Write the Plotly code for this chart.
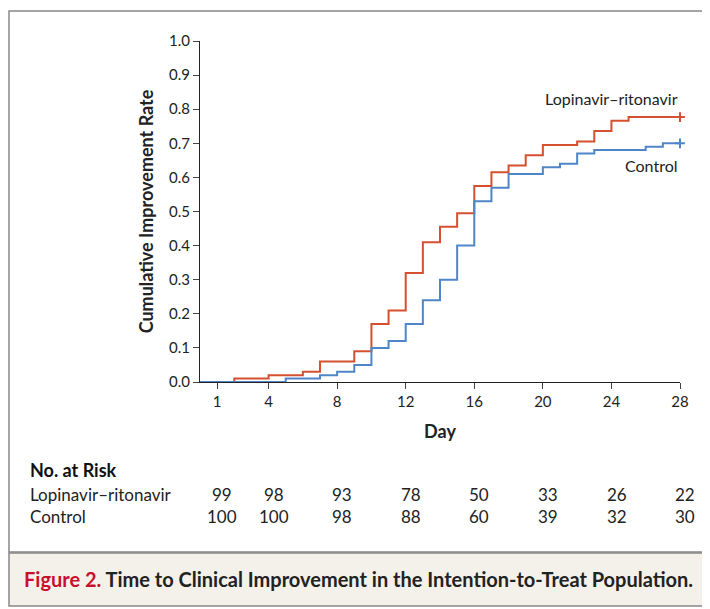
import plotly.graph_objects as go

# step curves (day, cumulative rate)
lpv_days = [0, 2, 4, 6, 7, 9, 10, 11, 12, 13, 14, 15, 16, 17, 18, 19, 20, 22, 23, 24, 25, 28]
lpv_rate = [0, 0.01, 0.02, 0.03, 0.06, 0.09, 0.17, 0.21, 0.32, 0.41, 0.455, 0.495, 0.575, 0.615,
            0.635, 0.665, 0.695, 0.705, 0.736, 0.766, 0.777, 0.777]
ctl_days = [0, 5, 7, 8, 9, 10, 11, 12, 13, 14, 15, 16, 17, 18, 20, 21, 22, 23, 26, 27, 28]
ctl_rate = [0, 0.01, 0.02, 0.03, 0.05, 0.10, 0.12, 0.17, 0.24, 0.30, 0.40, 0.53, 0.57, 0.61,
            0.63, 0.64, 0.67, 0.68, 0.69, 0.70, 0.70]

risk_days = [1, 4, 8, 12, 16, 20, 24, 28]
risk_lpv = [99, 98, 93, 78, 50, 33, 26, 22]
risk_ctl = [100, 100, 98, 88, 60, 39, 32, 30]

RED = "#d4502f"
BLUE = "#4f86c9"
FONT = "Lato"
OFF = 8  # page body margin
W, H = 710 - OFF, 609 - OFF
L, R, T, B = 200, 680, 41, 382


def px(x):
    return (x - L) / (R - L)


def py(y):
    return (B - y) / (B - T)


fig = go.Figure()
fig.add_trace(go.Scatter(x=lpv_days, y=lpv_rate, mode="lines", line=dict(color=RED, width=2, shape="hv")))
fig.add_trace(go.Scatter(x=ctl_days, y=ctl_rate, mode="lines", line=dict(color=BLUE, width=2, shape="hv")))
fig.add_trace(go.Scatter(x=[lpv_days[-1]], y=[lpv_rate[-1]], mode="markers", cliponaxis=False,
                         marker=dict(symbol="cross-thin", size=7, line=dict(color=RED, width=2))))
fig.add_trace(go.Scatter(x=[ctl_days[-1]], y=[ctl_rate[-1]], mode="markers", cliponaxis=False,
                         marker=dict(symbol="cross-thin", size=7, line=dict(color=BLUE, width=2))))

ann = []
ann.append(dict(x=28, y=0.83, xref="x", yref="y", text="Lopinavir\u2013ritonavir", showarrow=False,
                xanchor="right", yanchor="middle", font=dict(size=16, color="#222")))
ann.append(dict(x=28, y=0.635, xref="x", yref="y", text="Control", showarrow=False,
                xanchor="right", yanchor="middle", font=dict(size=16, color="#222")))
ann.append(dict(x=px(28), y=py(470), xref="paper", yref="paper", text="<b>No. at Risk</b>", showarrow=False,
                xanchor="left", yanchor="middle", font=dict(size=18, color="#111")))
ann.append(dict(x=px(28), y=py(494), xref="paper", yref="paper", text="Lopinavir\u2013ritonavir",
                showarrow=False, xanchor="left", yanchor="middle", font=dict(size=17, color="#222")))
ann.append(dict(x=px(28), y=py(516), xref="paper", yref="paper", text="Control",
                showarrow=False, xanchor="left", yanchor="middle", font=dict(size=17, color="#222")))
for d, a, c in zip(risk_days, risk_lpv, risk_ctl):
    xp = (d + 0.3) / 28
    for val, yy in ((a, 494), (c, 516)):
        ann.append(dict(x=xp, y=py(yy), xref="paper", yref="paper", text=str(val), showarrow=False,
                        xanchor="center", yanchor="middle", font=dict(size=17, color="#222")))
ann.append(dict(x=px(22), y=py(579), xref="paper", yref="paper",
                text="<b><span style='color:#c8102e'>Figure 2.</span> Time to Clinical Improvement in the Intention-to-Treat Population.</b>",
                showarrow=False, xanchor="left", yanchor="middle", font=dict(size=20, color="#222")))

shapes = [
    dict(type="line", xref="paper", yref="paper", x0=px(9), x1=px(715), y0=py(5), y1=py(5),
         line=dict(color="#666", width=3)),
    dict(type="rect", xref="paper", yref="paper", x0=px(9), x1=px(715), y0=py(552), y1=py(11),
         line=dict(color="#888", width=1.5)),
    dict(type="rect", xref="paper", yref="paper", x0=px(9), x1=px(715), y0=py(606), y1=py(553),
         fillcolor="#f4f1eb", line=dict(color="#888", width=1.5), layer="below"),
]

fig.update_layout(
    width=W, height=H, margin=dict(l=L - OFF, r=W - (R - OFF), t=T - OFF, b=H - (B - OFF)),
    paper_bgcolor="white", plot_bgcolor="white", showlegend=False,
    font=dict(family=FONT, size=15, color="#222"),
    annotations=ann, shapes=shapes,
    xaxis=dict(range=[0, 28], tickvals=[1, 4, 8, 12, 16, 20, 24, 28], ticks="outside", ticklen=6,
               showline=True, linecolor="#222", linewidth=1, showgrid=False, zeroline=False,
               title=dict(text="<b>Day</b>", font=dict(size=18), standoff=16), tickfont=dict(size=15)),
    yaxis=dict(range=[0, 1.0], dtick=0.1, tickformat=".1f", ticks="outside", ticklen=6,
               showline=True, linecolor="#222", linewidth=1, showgrid=False, zeroline=False,
               title=dict(text="<b>Cumulative Improvement Rate</b>", font=dict(size=18), standoff=10),
               tickfont=dict(size=15)),
)

fig.write_html("out.html")
